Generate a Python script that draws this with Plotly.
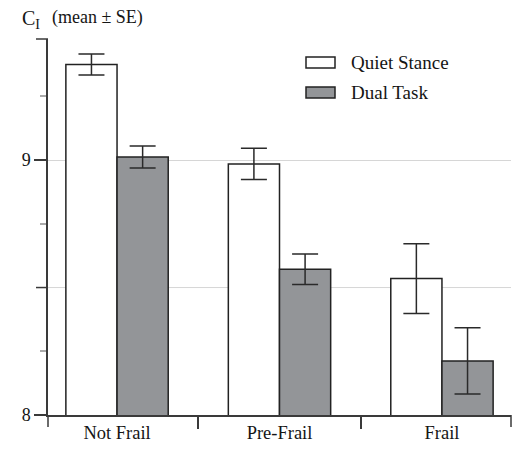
import plotly.graph_objects as go

categories = ["Not Frail", "Pre-Frail", "Frail"]
series_names = ["Quiet Stance", "Dual Task"]
quiet_mean = [9.375, 8.985, 8.535]
quiet_se = [0.041, 0.061, 0.137]
dual_mean = [9.012, 8.572, 8.212]
dual_se = [0.043, 0.060, 0.130]
y_tick_vals = [8, 9]
y_mid_tick = 8.5
y_minor_vals = [8.25, 8.75, 9.25]

W, H = 516, 449
ML, MT = 48, 39
MR = W - 511
MB = H - 415
PW = W - ML - MR
PH = H - MT - MB

AX = "#3a3a3a"
TXT = "#151515"
FONT = "Liberation Serif"

fig = go.Figure()
fig.add_trace(go.Bar(
    x=categories, y=quiet_mean, name=series_names[0],
    marker=dict(color="white", line=dict(color="#222222", width=1.5)),
    error_y=dict(type="data", array=quiet_se, visible=True, color="#2a2a2a", thickness=1.5, width=13),
    showlegend=False,
))
fig.add_trace(go.Bar(
    x=categories, y=dual_mean, name=series_names[1],
    marker=dict(color="#939598", line=dict(color="#222222", width=1.5)),
    error_y=dict(type="data", array=dual_se, visible=True, color="#2a2a2a", thickness=1.5, width=13),
    showlegend=False,
))

fig.update_layout(
    width=W, height=H,
    margin=dict(l=ML, r=MR, t=MT, b=MB),
    paper_bgcolor="white", plot_bgcolor="white",
    barmode="group", bargap=0.37, bargroupgap=0,
    font=dict(family=FONT, size=18, color=TXT),
    showlegend=False,
)
fig.update_xaxes(
    range=[-0.425, 2.425],
    showline=True, linecolor=AX, linewidth=1.5,
    ticks="outside", tickson="boundaries", ticklen=12, tickcolor=AX, tickwidth=1.5,
    showgrid=False, tickfont=dict(family=FONT, size=18.5, color=TXT),
)
fig.update_yaxes(
    range=[8, 9.475],
    showline=True, linecolor=AX, linewidth=1.5,
    tickmode="array", tickvals=y_tick_vals,
    ticks="outside", ticklen=12, tickcolor=AX, tickwidth=1.5,
    minor=dict(tickvals=y_minor_vals, ticks="outside", ticklen=6, tickcolor="#aaaaaa", showgrid=False),
    showgrid=True, gridcolor="#d6d6d6", gridwidth=1,
    tickfont=dict(family=FONT, size=18, color=TXT),
    zeroline=False,
)

shapes = []
# unlabeled major tick and gridline at the middle value
shapes.append(dict(type="line", xref="paper", yref="y", x0=0, x1=1, y0=y_mid_tick, y1=y_mid_tick,
                   layer="below", line=dict(color="#d6d6d6", width=1)))
shapes.append(dict(type="line", xref="paper", yref="y", x0=-12 / PW, x1=0, y0=y_mid_tick, y1=y_mid_tick,
                   line=dict(color=AX, width=1.5)))
# axis extensions
shapes.append(dict(type="line", xref="paper", yref="paper", x0=0, x1=0, y0=-12 / PH, y1=0,
                   line=dict(color=AX, width=1.5)))
shapes.append(dict(type="line", xref="paper", yref="paper", x0=1, x1=1, y0=-12 / PH, y1=0,
                   line=dict(color=AX, width=1.5)))
shapes.append(dict(type="line", xref="paper", yref="paper", x0=-10 / PW, x1=0, y0=0, y1=0,
                   line=dict(color=AX, width=1.5)))
shapes.append(dict(type="line", xref="paper", yref="paper", x0=-12 / PW, x1=0, y0=1, y1=1,
                   line=dict(color=AX, width=1.5)))

# custom legend (positions in screen pixels, converted to paper)
def px_x(px):
    return (px - ML) / PW

def px_y(py):
    return (MT + PH - py) / PH

legend_fill = ["white", "#939598"]
legend_py = [62.5, 92.5]
bh = 5.5 / PH
annotations = []
for name, fill, py in zip(series_names, legend_fill, legend_py):
    yc = px_y(py)
    shapes.append(dict(type="rect", xref="paper", yref="paper", x0=px_x(306), x1=px_x(335),
                       y0=yc - bh, y1=yc + bh,
                       fillcolor=fill, line=dict(color="#222222", width=1.5)))
    annotations.append(dict(xref="paper", yref="paper", x=px_x(349), y=yc, text=name,
                            showarrow=False, xanchor="left", yanchor="middle",
                            font=dict(family=FONT, size=19, color=TXT)))

annotations.append(dict(xref="paper", yref="paper", x=px_x(20), y=px_y(19),
                        text="C<sub>I</sub>", showarrow=False, xanchor="left", yanchor="middle",
                        font=dict(family=FONT, size=20, color=TXT)))
annotations.append(dict(xref="paper", yref="paper", x=px_x(50), y=px_y(18),
                        text="(mean ± SE)", showarrow=False, xanchor="left", yanchor="middle",
                        font=dict(family=FONT, size=18, color=TXT)))

fig.update_layout(shapes=shapes, annotations=annotations)
fig.write_html("out.html", config={"displayModeBar": False},
               post_script="document.body.style.margin='0';")
